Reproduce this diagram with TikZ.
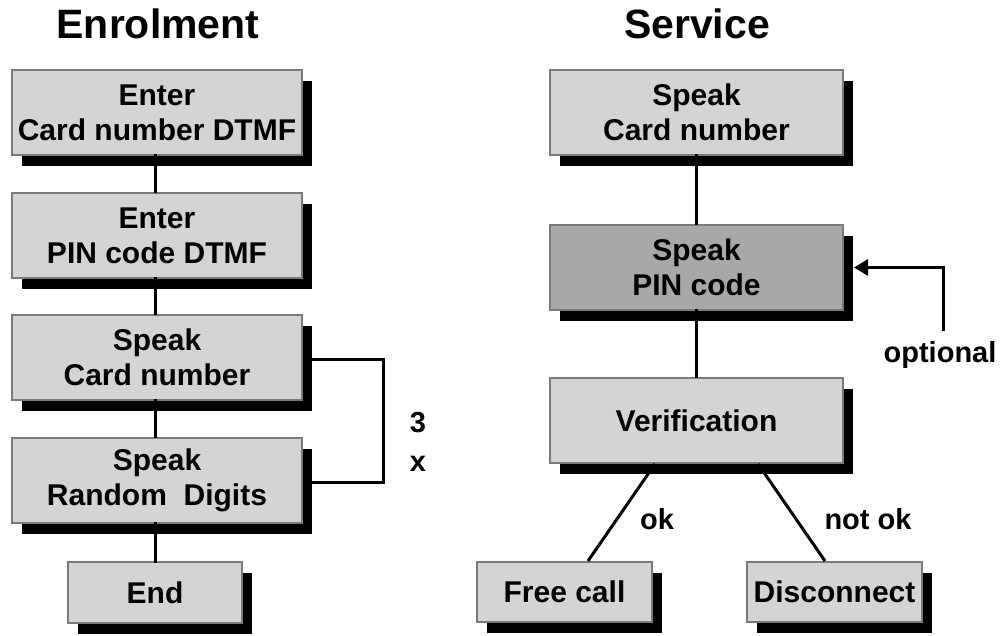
\documentclass[tikz,border=0pt]{standalone}
\usepackage{fontspec}
\setmainfont{Liberation Sans}
\usetikzlibrary{shadows,arrows.meta}
\definecolor{boxfill}{HTML}{D4D4D4}
\definecolor{darkfill}{HTML}{A8A8A8}
\definecolor{boxline}{HTML}{7A7A7A}
\tikzset{
  flowbox/.style={draw=boxline, line width=2pt, fill=boxfill, align=center, inner sep=0pt,
    font=\fontsize{30}{35}\selectfont\bfseries,
    drop shadow={shadow xshift=10pt, shadow yshift=-11pt, fill=black, opacity=1}},
  title/.style={font=\fontsize{41}{45}\selectfont\bfseries},
  lbl/.style={font=\fontsize{29}{39}\selectfont\bfseries, align=center, inner sep=0pt},
  conn/.style={line width=3pt, line cap=rect},
}
\begin{document}
\begin{tikzpicture}[x=1pt, y={(0pt,-1pt)}]
\useasboundingbox (0,0) rectangle (1002,636);
% titles
\node[title] (t1) at (158,24) {Enrolment};
\node[title] (t2) at (697,24) {Service};
% left column
\node[flowbox, minimum width=290pt, minimum height=85pt] (e1) at (157,112.5) {Enter\\Card number DTMF};
\node[flowbox, minimum width=290pt, minimum height=85pt] (e2) at (157,235.5) {Enter\\PIN code DTMF};
\node[flowbox, minimum width=290pt, minimum height=85pt] (e3) at (157,357.5) {Speak\\Card number};
\node[flowbox, minimum width=290pt, minimum height=85pt] (e4) at (157,480) {Speak\\Random\ \ Digits};
\node[flowbox, minimum width=174pt, minimum height=61pt] (e5) at (155,592.5) {End};
% right column
\node[flowbox, minimum width=293pt, minimum height=85pt] (s1) at (696.5,112.5) {Speak\\Card number};
\node[flowbox, fill=darkfill, minimum width=293pt, minimum height=85pt] (s2) at (696.5,267.5) {Speak\\PIN code};
\node[flowbox, minimum width=293pt, minimum height=85pt] (s3) at (696.5,420.5) {Verification};
\node[flowbox, minimum width=175pt, minimum height=60pt] (s4) at (564.5,592) {Free call};
\node[flowbox, minimum width=175pt, minimum height=60pt] (s5) at (834.5,592) {Disconnect};
% labels
\node[lbl] (three) at (418,442) {3\\x};
\node[lbl] (ok) at (657,519) {ok};
\node[lbl] (notok) at (868,519) {not ok};
\node[lbl] (optl) at (940,355) {optional};
% coordinates
\coordinate (loop) at (383,420);
\coordinate (opt) at (943,331);
% connectors left
\draw[conn] ([xshift=-2pt]e1.south) -- ([xshift=-2pt]e2.north);
\draw[conn] ([xshift=-2pt]e2.south) -- ([xshift=-2pt]e3.north);
\draw[conn] ([xshift=-2pt]e3.south) -- ([xshift=-2pt]e4.north);
\draw[conn] ([xshift=-2pt]e4.south) -- (e5.north);
\draw[conn, line cap=butt] ([yshift=-2pt]e3.east) -| (loop) |- ([yshift=-2pt]e4.east);
% connectors right
\draw[conn] (s1.south) -- (s2.north);
\draw[conn] (s2.south) -- (s3.north);
\draw[conn, line cap=butt] ([xshift=-41.5pt]s3.south) -- ([xshift=23.5pt]s4.north);
\draw[conn, line cap=butt] ([xshift=61.5pt]s3.south) -- ([xshift=-9.5pt]s5.north);
\draw[conn, line cap=butt, -{Triangle[length=14pt,width=16pt]}] (opt) |- ([xshift=10pt]s2.east);
\end{tikzpicture}
\end{document}
